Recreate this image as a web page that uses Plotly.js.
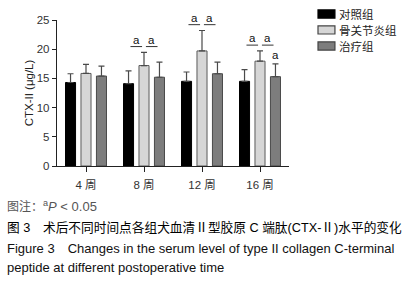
<!DOCTYPE html>
<html>
<head>
<meta charset="utf-8">
<script src="https://cdn.plot.ly/plotly-3.0.1.min.js"></script>
<style>html,body{margin:0;padding:0;background:#fff;}#chart{width:409px;height:281px;}</style>
</head>
<body>
<div id="chart"></div>
<script>
// ---- data ----
var categories = ["4 周", "8 周", "12 周", "16 周"];
var groupNames = ["对照组", "骨关节炎组", "治疗组"];
var controlMean = [14.3, 14.1, 14.5, 14.5];
var controlSD   = [1.5, 2.2, 1.6, 2.0];
var oaMean      = [15.85, 17.2, 19.7, 17.95];
var oaSD        = [1.55, 2.25, 3.5, 1.75];
var treatMean   = [15.4, 15.2, 15.8, 15.3];
var treatSD     = [1.7, 2.6, 2.0, 2.2];
var yTicks = [0, 5, 10, 15, 20, 25];
// significance marks: category index, and which bars are compared (bar indices)
var sigCategory = [1, 1, 2, 2, 3, 3, 3];
var sigFrom     = [0, 1, 0, 1, 0, 1, 2];
var sigTo       = [1, 2, 1, 2, 1, 2, 2];
var sigLabel    = ["a", "a", "a", "a", "a", "a", "a"];

// ---- styles ----
var fills = ["#000000", "#d6d6d6", "#7d7d7d"];
var lines = ["#000000", "#5a5a5a", "#4a4a4a"];
var means = [controlMean, oaMean, treatMean];
var sds = [controlSD, oaSD, treatSD];
var bargap = 0.2;
var slot = (1 - bargap) / 3;

var traces = [];
for (var g = 0; g < 3; g++) {
  traces.push({
    type: "bar", name: groupNames[g], x: categories, y: means[g],
    marker: {color: fills[g], line: {color: lines[g], width: 1}},
    error_y: {type: "data", symmetric: false, array: sds[g], arrayminus: sds[g].map(function(){return 0;}),
              color: "#4a4a4a", thickness: 1.2, width: 3},
    showlegend: false
  });
}

var shapes = [], annotations = [];
function topOf(b, c) { return means[b][c] + sds[b][c]; }
for (var i = 0; i < sigCategory.length; i++) {
  var c = sigCategory[i];
  var xa = c + (sigFrom[i] - 1) * slot, xb = c + (sigTo[i] - 1) * slot;
  var mid = (xa + xb) / 2;
  if (sigFrom[i] !== sigTo[i]) {
    var gm = Math.max(topOf(0, c), topOf(1, c), topOf(2, c));
    var yl = gm + 1.0;
    shapes.push({type: "line", xref: "x", yref: "y", x0: mid - 0.1, x1: mid + 0.1, y0: yl, y1: yl,
                 line: {color: "#333", width: 1}});
    annotations.push({xref: "x", yref: "y", x: mid, y: yl, yanchor: "bottom", text: sigLabel[i],
                      showarrow: false, font: {size: 11.5, color: "#111", family: "Liberation Sans"}, yshift: -1});
  } else {
    annotations.push({xref: "x", yref: "y", x: mid, y: topOf(sigFrom[i], c) + 0.2, yanchor: "bottom", text: sigLabel[i],
                      showarrow: false, font: {size: 11.5, color: "#111", family: "Liberation Sans"}});
  }
}

// manual legend (layout decoration)
var legY = [1.041, 0.932, 0.822];
for (var k = 0; k < 3; k++) {
  shapes.push({type: "rect", xref: "paper", yref: "paper", x0: 1.125, x1: 1.198, y0: legY[k] - 0.028, y1: legY[k] + 0.028,
               fillcolor: fills[k], line: {color: lines[k] === "#000000" ? "#000" : "#444", width: 1.2}});
  annotations.push({xref: "paper", yref: "paper", x: 1.205, y: legY[k], xanchor: "left", yanchor: "middle",
                    text: groupNames[k], showarrow: false,
                    font: {size: 11.5, color: "#222", family: "Noto Sans CJK SC"}});
}

// captions
var cap = [
  {t: "图注：<span style=\"font-size:13px\"><sup>a</sup><i>P</i> < 0.05</span>", y: -0.274, c: "#555", s: 12},
  {t: "图 3　术后不同时间点各组犬血清Ⅱ型胶原 C 端肽(CTX-Ⅱ)水平的变化", y: -0.418, c: "#000", s: 12.7},
  {t: "Figure 3　Changes in the serum level of type II collagen C-terminal", y: -0.562, c: "#111", s: 13},
  {t: "peptide at different postoperative time", y: -0.692, c: "#111", s: 13}
];
cap.forEach(function(o) {
  annotations.push({xref: "paper", yref: "paper", x: -0.222, y: o.y, xanchor: "left", yanchor: "middle",
                    text: o.t, showarrow: false, align: "left",
                    font: {size: o.s, color: o.c, family: "Liberation Sans, Noto Sans CJK SC"}});
});

var layout = {
  width: 409, height: 281,
  margin: {l: 57, r: 120, t: 20, b: 115},
  paper_bgcolor: "#fff", plot_bgcolor: "#fff",
  barmode: "group", bargap: bargap, bargroupgap: 0.35,
  font: {family: "Liberation Sans, Noto Sans CJK SC", color: "#222"},
  xaxis: {type: "category", range: [-0.5, 3.5], showline: true, linecolor: "#222", linewidth: 1.2,
          ticks: "outside", ticklen: 5, tickcolor: "#222", tickfont: {size: 11.5, color: "#333"},
          ticklabelstandoff: 3,
          showgrid: false, zeroline: false, fixedrange: true},
  yaxis: {range: [0, 25], tickvals: yTicks, showline: true, linecolor: "#222", linewidth: 1.2,
          ticks: "outside", ticklen: 4, tickcolor: "#222", tickfont: {size: 11.5, color: "#333"},
          showgrid: false, zeroline: false,
          title: {text: "CTX-II (μg/L)", font: {size: 11.5, color: "#222"}, standoff: 0}},
  shapes: shapes, annotations: annotations, showlegend: false
};
Plotly.newPlot("chart", traces, layout, {displayModeBar: false, staticPlot: true});
</script>
</body>
</html>
